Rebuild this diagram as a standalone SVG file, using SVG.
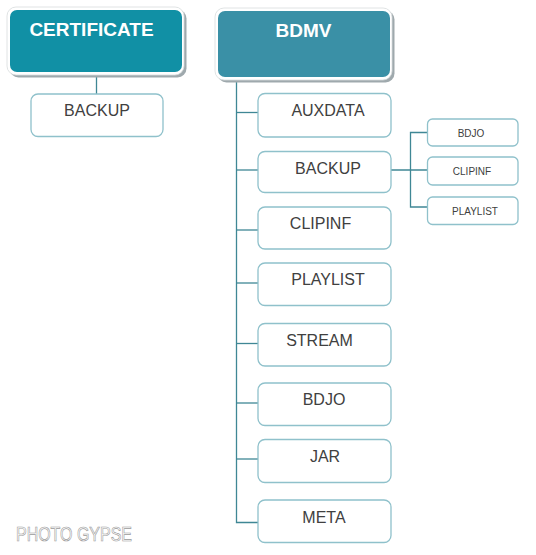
<svg xmlns="http://www.w3.org/2000/svg" width="536" height="555" viewBox="0 0 536 555">
<style>
.shadow{fill:#9fa9ad}
.frame{fill:#ffffff;stroke:#d8dcdd;stroke-width:0.8}
.head{font-family:"Liberation Sans",Arial,sans-serif;font-weight:bold;font-size:19px;fill:#ffffff}
.box{fill:#ffffff;stroke:#8fc1cb;stroke-width:1.3}
.lbl{font-family:"Liberation Sans",Arial,sans-serif;font-size:16px;fill:#404040;text-anchor:middle}
.sm{font-family:"Liberation Sans",Arial,sans-serif;font-size:10px;fill:#404040;text-anchor:middle}
.conn{stroke:#3f8795;stroke-width:1.3;fill:none}
</style>
<rect width="536" height="555" fill="#ffffff"/>
<g id="connectors">
<line class="conn" x1="96.5" y1="75" x2="96.5" y2="94"/>
<polyline class="conn" points="236.5,80 236.5,522.5 258,522.5"/>
<line class="conn" x1="236.5" y1="112.5" x2="258" y2="112.5"/>
<line class="conn" x1="236.5" y1="170" x2="258" y2="170"/>
<line class="conn" x1="236.5" y1="230" x2="258" y2="230"/>
<line class="conn" x1="236.5" y1="283" x2="258" y2="283"/>
<line class="conn" x1="236.5" y1="343.5" x2="258" y2="343.5"/>
<line class="conn" x1="236.5" y1="403" x2="258" y2="403"/>
<line class="conn" x1="236.5" y1="459" x2="258" y2="459"/>
<line class="conn" x1="391" y1="170" x2="427.5" y2="170"/>
<polyline class="conn" points="427.5,132.5 410.5,132.5 410.5,207 427.5,207"/>
</g>
<g id="certificate">
<rect class="shadow" x="9.5" y="9.5" width="177" height="68" rx="9"/>
<rect class="frame" x="7" y="7" width="177" height="68" rx="9"/>
<rect x="10" y="10" width="172" height="62" rx="7" fill="#1190a5"/>
<text class="head" x="91.5" y="36" text-anchor="middle">CERTIFICATE</text>
</g>
<g id="cert-backup">
<rect class="box" x="31" y="94" width="132" height="42.5" rx="7"/>
<text class="lbl" x="97" y="116">BACKUP</text>
</g>
<g id="bdmv">
<rect class="shadow" x="217.5" y="10.5" width="177" height="72" rx="9"/>
<rect class="frame" x="215" y="8" width="177" height="72" rx="9"/>
<rect x="218" y="11" width="172" height="66" rx="7" fill="#3a90a6"/>
<text class="head" x="303.5" y="37" text-anchor="middle">BDMV</text>
</g>
<g id="auxdata">
<rect class="box" x="258" y="93.5" width="133" height="43.5" rx="7"/>
<text class="lbl" x="328" y="116">AUXDATA</text>
</g>
<g id="backup">
<rect class="box" x="258" y="151.5" width="133" height="41" rx="7"/>
<text class="lbl" x="328" y="174">BACKUP</text>
</g>
<g id="clipinf">
<rect class="box" x="258" y="207" width="133" height="42" rx="7"/>
<text class="lbl" x="320.5" y="229">CLIPINF</text>
</g>
<g id="playlist">
<rect class="box" x="258" y="263" width="133" height="42.5" rx="7"/>
<text class="lbl" x="328" y="285">PLAYLIST</text>
</g>
<g id="stream">
<rect class="box" x="258" y="323.5" width="133" height="42.5" rx="7"/>
<text class="lbl" x="319.5" y="346">STREAM</text>
</g>
<g id="bdjo">
<rect class="box" x="258" y="383" width="133" height="42.5" rx="7"/>
<text class="lbl" x="324" y="405">BDJO</text>
</g>
<g id="jar">
<rect class="box" x="258" y="439.5" width="133" height="43" rx="7"/>
<text class="lbl" x="325" y="462">JAR</text>
</g>
<g id="meta">
<rect class="box" x="258" y="500" width="133" height="42.5" rx="7"/>
<text class="lbl" x="324" y="522.5">META</text>
</g>
<g id="sub-bdjo">
<rect class="box" x="427.5" y="119" width="90.5" height="27" rx="5"/>
<text class="sm" x="471" y="136.5">BDJO</text>
</g>
<g id="sub-clipinf">
<rect class="box" x="427.5" y="157" width="90.5" height="28" rx="5"/>
<text class="sm" x="472" y="174.5">CLIPINF</text>
</g>
<g id="sub-playlist">
<rect class="box" x="427.5" y="197" width="90.5" height="27.5" rx="5"/>
<text class="sm" x="475" y="214.5">PLAYLIST</text>
</g>
<text x="16" y="541" font-family="Liberation Sans,Arial,sans-serif" font-size="21" fill="#ffffff" stroke="#9a9a9a" stroke-width="0.7" textLength="116" lengthAdjust="spacingAndGlyphs">PHOTO GYPSE</text>
</svg>
